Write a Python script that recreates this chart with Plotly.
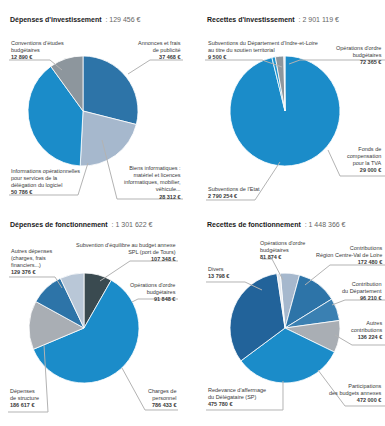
import plotly.graph_objects as go

W, H = 385, 426

# ---------------- DATA ----------------
dep_inv_title = "Dépenses d'investissement"
dep_inv_total = "129 456 €"
dep_inv_cats = ["Annonces et frais<br>de publicité",
                "Biens informatiques :<br>matériel et licences<br>informatiques, mobilier,<br>véhicule...",
                "Informations opérationnelles<br>pour services de la<br>délégation du logiciel",
                "Conventions d'études<br>budgétaires"]
dep_inv_vals = [37468, 28312, 50786, 12890]

rec_inv_title = "Recettes d'investissement"
rec_inv_total = "2 901 119 €"
rec_inv_cats = ["Subventions de l'Etat",
                "Fonds de<br>compensation<br>pour la TVA",
                "Opérations d'ordre<br>budgétaires",
                "Subventions du Département d'Indre-et-Loire<br>au titre du soutien territorial"]
rec_inv_vals = [2790254, 29000, 72365, 9500]

dep_fct_title = "Dépenses de fonctionnement"
dep_fct_total = "1 301 622 €"
dep_fct_cats = ["Subvention d'équilibre au budget annexe<br>SPL (port de Tours)",
                "Charges de<br>personnel",
                "Dépenses<br>de structure",
                "Autres dépenses<br>(charges, frais<br>financiers...)",
                "Opérations d'ordre<br>budgétaires"]
dep_fct_vals = [107348, 786433, 186617, 129376, 91848]

rec_fct_title = "Recettes de fonctionnement"
rec_fct_total = "1 448 366 €"
rec_fct_cats = ["Opérations d'ordre<br>budgétaires",
                "Contributions<br>Région Centre-Val de Loire",
                "Contribution<br>du Département",
                "Autres<br>contributions",
                "Participations<br>des budgets annexes",
                "Redevance d'affermage<br>du Délégataire (SP)",
                "Divers"]
rec_fct_vals = [81874, 172480, 96210, 136224, 472000, 475780, 13798]

# ---------------- STYLE ----------------
BLUE = "#1b8cc9"
DARKBLUE = "#22639a"
MEDBLUE = "#2d74a8"
LIGHT = "#a6b8cd"
GRAY = "#8d969d"
DARK = "#3a4a50"
LGRAY = "#a9aeb4"
FONT = "Liberation Sans Narrow, Liberation Sans, Arial"


def fmt(v):
    return f"{v:,}".replace(",", " ") + " €"


def px(x, y):
    return x / W, 1 - y / H


charts = [
    dict(title=dep_inv_title, total=dep_inv_total, cats=dep_inv_cats, vals=dep_inv_vals,
         center=(83, 111), r=55, rotation=0,
         colors=[MEDBLUE, LIGHT, BLUE, GRAY],
         labels=[(183, 38, "right", [(183, 60), (150, 60), (128, 74)]),
                 (183, 163, "right", [(183, 199), (117, 199), (102, 140)]),
                 (9, 166, "left", [(9, 195), (78, 195), (88, 163)]),
                 (9, 38, "left", [(9, 60), (50, 60), (62, 70)])]),
    dict(title=rec_inv_title, total=rec_inv_total, cats=rec_inv_cats, vals=rec_inv_vals,
         center=(285, 111), r=55, rotation=0,
         colors=[BLUE, "#1f93ce", GRAY, "#d6dde6"],
         labels=[(206, 184, "left", [(206, 200), (255, 200), (280, 162)]),
                 (384, 144, "right", [(385, 176), (340, 176), (328, 150)]),
                 (384, 43, "right", [(385, 60), (300, 60), (289, 64)]),
                 (206, 38, "left", [(205, 60), (262, 60), (282, 67)])]),
    dict(title=dep_fct_title, total=dep_fct_total, cats=dep_fct_cats, vals=dep_fct_vals,
         center=(84, 328), r=55, rotation=0,
         colors=[DARK, BLUE, LGRAY, MEDBLUE, "#b9c7d7"],
         labels=[(178, 240, "right", [(178, 261), (130, 261), (100, 281)]),
                 (178, 386, "right", [(178, 410), (145, 410), (122, 368)]),
                 (8, 386, "left", [(8, 412), (48, 412), (44, 345)]),
                 (9, 246, "left", [(9, 277), (55, 277), (62, 288)]),
                 (178, 280, "right", [(178, 299), (138, 299), (132, 302)])]),
    dict(title=rec_fct_title, total=rec_fct_total, cats=rec_fct_cats, vals=rec_fct_vals,
         center=(285, 328), r=55, rotation=-5,
         colors=[LIGHT, MEDBLUE, "#3a80b2", LGRAY, BLUE, DARKBLUE, "#e4e9ef"],
         labels=[(258, 238, "left", [(262, 259), (272, 259), (283, 280)]),
                 (384, 243, "right", [(385, 265), (330, 265), (305, 285)]),
                 (384, 279, "right", [(385, 300), (345, 300), (332, 305)]),
                 (384, 318, "right", [(385, 345), (352, 345), (335, 335)]),
                 (384, 381, "right", [(385, 406), (345, 406), (318, 370)]),
                 (206, 385, "left", [(206, 410), (283, 410), (283, 381)]),
                 (206, 264, "left", [(206, 282), (245, 282), (262, 290)])]),
]

title_pos = [(8, 14), (205, 14), (8, 219), (205, 219)]

fig = go.Figure()
annotations = []
shapes = []

for ch, (tx, ty) in zip(charts, title_pos):
    cx, cy = ch["center"]
    r = ch["r"]
    x0, y1 = px(cx - r, cy - r)
    x1, y0 = px(cx + r, cy + r)
    fig.add_trace(go.Pie(
        labels=ch["cats"], values=ch["vals"], sort=False, direction="clockwise",
        rotation=ch["rotation"], textinfo="none", hole=0,
        marker=dict(colors=ch["colors"], line=dict(color="white", width=0.8)),
        domain=dict(x=[x0, x1], y=[y0, y1]), showlegend=False,
    ))
    ax, ay = px(tx, ty)
    annotations.append(dict(
        x=ax, y=ay, xref="paper", yref="paper", xanchor="left", yanchor="top",
        text=f"<b>{ch['title']}</b>  <span style='color:#666'>: {ch['total']}</span>",
        showarrow=False, font=dict(size=7, color="#1a1a1a", family=FONT)))
    for cat, val, (lx, ly, anc, pts) in zip(ch["cats"], ch["vals"], ch["labels"]):
        axx, ayy = px(lx, ly)
        annotations.append(dict(
            x=axx, y=ayy, xref="paper", yref="paper", xanchor=anc, yanchor="top",
            align=anc, showarrow=False,
            text=f"{cat}<br><b>{fmt(val)}</b>",
            font=dict(size=5.5, color="#3a3a3a", family=FONT)))
        path = ""
        for i, (qx, qy) in enumerate(pts):
            a, b = px(qx, qy)
            path += ("M" if i == 0 else " L") + f" {a:.5f} {b:.5f}"
        shapes.append(dict(type="path", path=path, xref="paper", yref="paper",
                           line=dict(color="#b3b3b3", width=1)))

fig.update_layout(
    width=W, height=H, margin=dict(l=0, r=0, t=0, b=0),
    paper_bgcolor="white", plot_bgcolor="white",
    annotations=annotations, shapes=shapes,
)

fig.write_html("out.html")
